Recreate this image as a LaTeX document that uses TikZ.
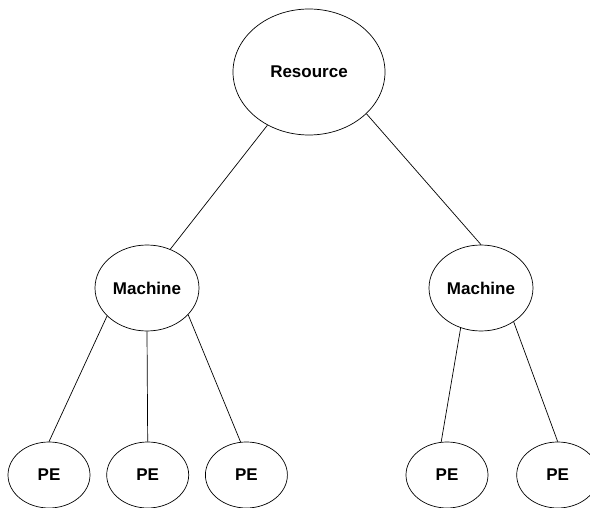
\documentclass[tikz,border=0pt]{standalone}
\usepackage{fontspec}
\setmainfont{Liberation Sans}
\usetikzlibrary{shapes.geometric, positioning}

\begin{document}
\begin{tikzpicture}[x=1pt, y=-1pt,
    blob/.style={draw, ellipse, inner sep=0pt, line width=0.7pt,
                 font=\fontsize{17}{20}\selectfont\bfseries},
    big/.style={blob, minimum width=152pt, minimum height=126pt},
    mid/.style={blob, minimum width=104pt, minimum height=86pt},
    leaf/.style={blob, minimum width=82pt, minimum height=66pt,
                 node distance=16pt},
    edge/.style={line width=0.7pt}]
  \useasboundingbox (0,0) rectangle (590,508);
  \node [big] (res) at (309,72) {Resource};
  \node [mid] (ml) at (147,288) {Machine};
  \node [mid] (mr) at (481,288) {Machine};
  \node [leaf] (pe1) at (49,475) {PE};
  \node [leaf, right=of pe1] (pe2) {PE};
  \node [leaf, right=of pe2] (pe3) {PE};
  \node [leaf] (pe4) at (447,475) {PE};
  \node [leaf, right=28pt of pe4] (pe5) {PE};
  \draw [edge] (res.-128) -- (ml.59);
  \draw [edge] (res.-36) -- (mr.north);
  \draw [edge] (ml.215) -- (pe1.north);
  \draw [edge] (ml.south) -- (pe2.north);
  \draw [edge] (ml.-33) -- (pe3.100);
  \draw [edge] (mr.-117) -- (pe4.100);
  \draw [edge] (mr.-46) -- (pe5.north);
\end{tikzpicture}
\end{document}
